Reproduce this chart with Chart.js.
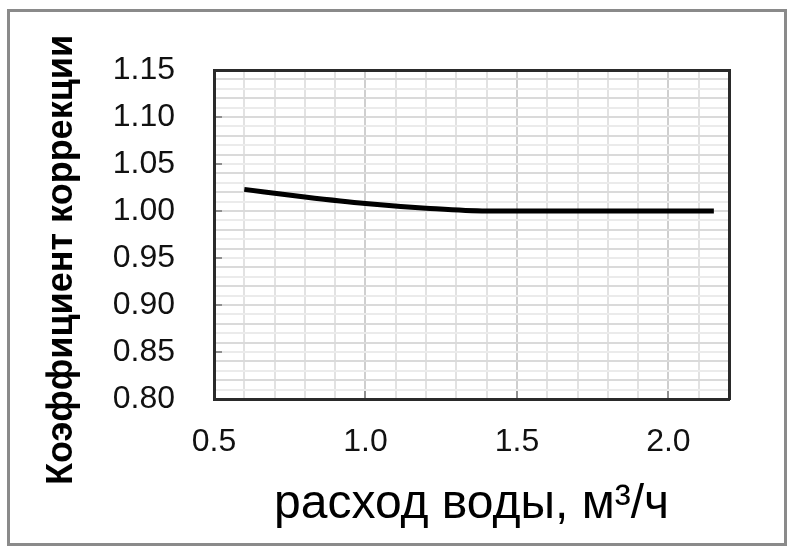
<!DOCTYPE html>
<html>
<head>
<meta charset="utf-8">
<script src="https://cdn.jsdelivr.net/npm/chart.js@4.4.1/dist/chart.umd.min.js"></script>
<style>
  body { margin: 0; background: #fff; }
  #wrap { position: relative; width: 794px; height: 552px; }
  #frame { position: absolute; left: 7px; top: 9px; width: 780px; height: 537px;
           border: 3px solid #8a8a8a; box-sizing: border-box; pointer-events: none; }
  canvas { position: absolute; left: 0; top: 0; }
</style>
</head>
<body>
<div id="wrap">
  <canvas id="chart" width="794" height="552"></canvas>
  <div id="frame"></div>
</div>
<script>
// flow rate (m3/h) and correction factor
const flowRate   = [0.6,   0.8,   1.0,   1.2,   1.4,   1.6, 1.8, 2.0, 2.15];
const correction = [1.023, 1.015, 1.008, 1.003, 1.000, 1.0, 1.0, 1.0, 1.0];

const xLabels = ['0.5', '1.0', '1.5', '2.0'];
const yLabels = ['0.80', '0.85', '0.90', '0.95', '1.00', '1.05', '1.10', '1.15'];

const xTitle = 'расход воды, м³/ч';
const yTitle = 'Коэффициент коррекции';

const frameColor = '#2a2a2a';
const tickFont = { family: 'Liberation Sans, Arial, sans-serif', size: 32 };

function isXMajor(v) { return xLabels.includes(v.toFixed(1)); }
function isYMajor(v) { return yLabels.includes(v.toFixed(2)); }

new Chart(document.getElementById('chart'), {
  type: 'line',
  data: {
    datasets: [{
      data: flowRate.map((x, i) => ({ x: x, y: correction[i] })),
      borderColor: '#000',
      borderWidth: 5,
      borderCapStyle: 'butt',
      pointRadius: 0,
      cubicInterpolationMode: 'monotone',
      fill: false
    }]
  },
  options: {
    responsive: false,
    animation: false,
    layout: { padding: { left: 0, top: 0, right: 0, bottom: 32 } },
    plugins: {
      legend: { display: false },
      tooltip: { enabled: false },
      title: {
        display: true,
        position: 'left',
        text: yTitle,
        color: '#000',
        font: { family: 'Liberation Sans, Arial, sans-serif', size: 36, weight: 'bold', lineHeight: 1 },
        padding: { top: 44.5, bottom: 0 }
      }
    },
    scales: {
      x: {
        type: 'linear',
        position: 'bottom',
        min: 0.5,
        max: 2.2,
        ticks: {
          stepSize: 0.1,
          autoSkip: false,
          maxRotation: 0,
          padding: 32,
          color: '#111',
          font: tickFont,
          callback: v => isXMajor(v) ? v.toFixed(1) : ''
        },
        grid: {
          color: c => (c.tick && isXMajor(c.tick.value)) ? '#cfcfcf' : '#e2e2e2',
          lineWidth: 2,
          tickLength: -8,
          tickWidth: 2,
          tickColor: c => (c.tick && isXMajor(c.tick.value)) ? '#8f8f8f' : 'rgba(0,0,0,0)'
        },
        border: { color: frameColor, width: 3 },
        title: {
          display: true,
          text: xTitle,
          color: '#000',
          font: { family: 'Liberation Sans, Arial, sans-serif', size: 48, lineHeight: 0.5 },
          padding: { top: 0, bottom: 3.5 }
        },
        afterFit: s => { s.height = 121; }
      },
      y: {
        type: 'linear',
        position: 'left',
        min: 0.8,
        max: 1.15,
        afterBuildTicks: s => {
          s.ticks = [];
          for (let i = 0; i <= 35; i++) s.ticks.push({ value: +(0.8 + i * 0.01).toFixed(2) });
        },
        ticks: {
          autoSkip: false,
          padding: 47,
          color: '#111',
          font: tickFont,
          callback: v => isYMajor(v) ? v.toFixed(2) : ''
        },
        grid: {
          color: c => (c.index % 2 === 0) ? '#dadada' : '#ebebeb',
          lineWidth: 2,
          tickLength: -8,
          tickWidth: 2,
          tickColor: c => (c.tick && isYMajor(c.tick.value)) ? '#8f8f8f' : 'rgba(0,0,0,0)'
        },
        border: { color: frameColor, width: 3 },
        afterFit: s => { s.width = 133.5; }
      },
      xTop: {
        type: 'linear',
        position: 'top',
        min: 0.5,
        max: 2.2,
        ticks: { display: false },
        grid: { display: false, drawTicks: false },
        border: { color: frameColor, width: 3 },
        afterFit: s => { s.height = 70; }
      },
      yRight: {
        type: 'linear',
        position: 'right',
        min: 0.8,
        max: 1.15,
        ticks: { display: false },
        grid: { display: false, drawTicks: false },
        border: { color: frameColor, width: 3 },
        afterFit: s => { s.width = 65; }
      }
    }
  }
});
</script>
</body>
</html>
